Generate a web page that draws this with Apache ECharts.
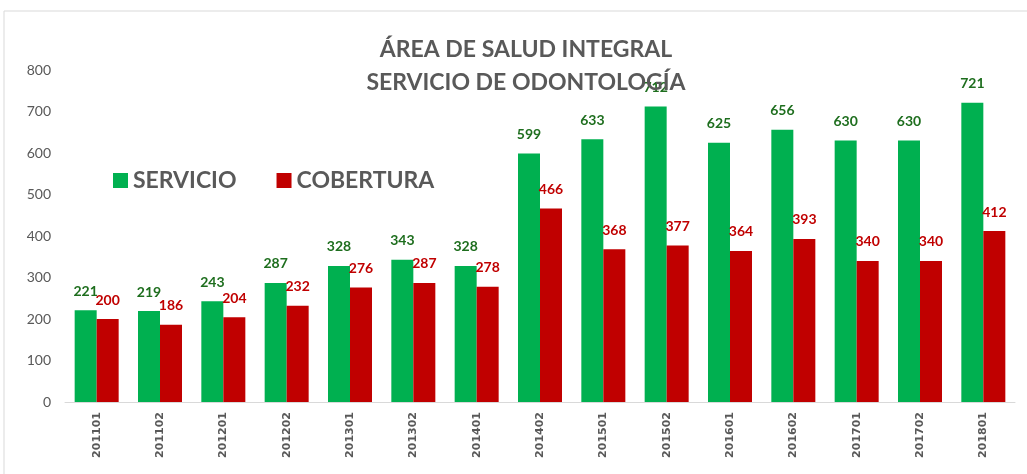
<!DOCTYPE html>
<html>
<head>
<meta charset="utf-8">
<script src="https://cdn.jsdelivr.net/npm/echarts@6/dist/echarts.min.js"></script>
<style>
  html, body { margin: 0; padding: 0; background: #fff; }
  #chart { width: 1027px; height: 474px; }
</style>
</head>
<body>
<div id="chart"></div>
<script>
// Periods (year + semester)
const periods = ['201101','201102','201201','201202','201301','201302','201401','201402',
                 '201501','201502','201601','201602','201701','201702','201801'];
// Attentions in the dental service
const servicio = [221, 219, 243, 287, 328, 343, 328, 599, 633, 712, 625, 656, 630, 630, 721];
// Coverage
const cobertura = [200, 186, 204, 232, 276, 287, 278, 466, 368, 377, 364, 393, 340, 340, 412];
const yTicks = [0, 100, 200, 300, 400, 500, 600, 700, 800];

const chart = echarts.init(document.getElementById('chart'), null, { renderer: 'canvas' });
const labelFont = 'Lato, "Liberation Sans", sans-serif';

chart.setOption({
  animation: false,
  backgroundColor: '#ffffff',
  graphic: [{
    type: 'rect',
    shape: { x: 4, y: 11, width: 1040, height: 480 },
    style: { fill: 'none', stroke: '#D9D9D9', lineWidth: 1 },
    silent: true
  }],
  title: {
    text: 'ÁREA DE SALUD INTEGRAL\nSERVICIO DE ODONTOLOGÍA',
    left: 521,
    textAlign: 'center',
    top: 28,
    textStyle: {
      fontFamily: labelFont,
      fontWeight: 'bold',
      fontSize: 23,
      color: '#595959',
      lineHeight: 33
    }
  },
  legend: {
    left: 108,
    top: 164,
    itemWidth: 15,
    itemHeight: 15,
    itemGap: 40,
    icon: 'rect',
    textStyle: {
      fontFamily: labelFont,
      fontWeight: 'bold',
      fontSize: 23,
      color: '#595959'
    },
    data: ['SERVICIO', 'COBERTURA']
  },
  grid: { left: 65, right: 12, top: 70, bottom: 72, containLabel: false },
  xAxis: {
    type: 'category',
    data: periods,
    axisLine: { lineStyle: { color: '#D9D9D9', width: 1 } },
    axisTick: { show: false },
    axisLabel: {
      rotate: 90,
      margin: 10,
      fontFamily: 'DejaVu Sans, sans-serif',
      fontWeight: 'bold',
      fontSize: 11,
      color: '#595959'
    }
  },
  yAxis: {
    type: 'value',
    min: yTicks[0],
    max: yTicks[yTicks.length - 1],
    interval: 100,
    splitLine: { show: false },
    axisLine: { show: false },
    axisTick: { show: false },
    axisLabel: {
      margin: 14,
      fontFamily: labelFont,
      fontSize: 14,
      color: '#595959'
    }
  },
  series: [
    {
      name: 'SERVICIO',
      type: 'bar',
      data: servicio,
      barWidth: 22,
      barGap: '0%',
      itemStyle: { color: '#00B050' },
      label: {
        show: true,
        position: 'top',
        distance: 12,
        fontFamily: labelFont,
        fontWeight: 'bold',
        fontSize: 14,
        color: '#1E6E1E'
      }
    },
    {
      name: 'COBERTURA',
      type: 'bar',
      data: cobertura,
      barWidth: 22,
      barGap: '0%',
      itemStyle: { color: '#C00000' },
      label: {
        show: true,
        position: 'top',
        distance: 12,
        fontFamily: labelFont,
        fontWeight: 'bold',
        fontSize: 14,
        color: '#C00000'
      }
    }
  ]
});
</script>
</body>
</html>
